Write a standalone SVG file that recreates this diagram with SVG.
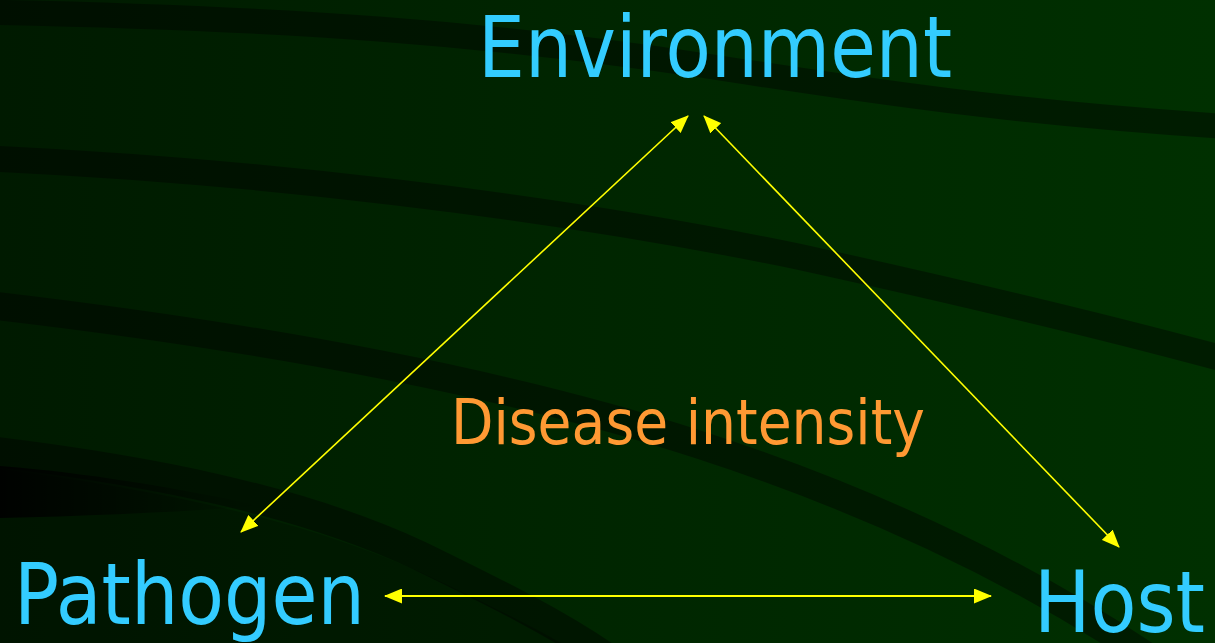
<svg xmlns="http://www.w3.org/2000/svg" width="1215" height="643" viewBox="0 0 1215 643">
  <defs>
    <linearGradient id="bg" x1="0" y1="0" x2="1" y2="0">
      <stop offset="0" stop-color="#001a00"/>
      <stop offset="0.45" stop-color="#002500"/>
      <stop offset="1" stop-color="#003000"/>
    </linearGradient>
    <linearGradient id="blob" x1="0" y1="0" x2="1" y2="0">
      <stop offset="0" stop-color="#000000" stop-opacity="0.9"/>
      <stop offset="1" stop-color="#000000" stop-opacity="0"/>
    </linearGradient>
    <marker id="ah" viewBox="0 0 18 15" markerWidth="18" markerHeight="15" refX="17" refY="7.5" orient="auto-start-reverse" markerUnits="userSpaceOnUse">
      <path d="M0,0 L18,7.5 L0,15 Z" fill="#ffff00"/>
    </marker>
  </defs>
  <style>
    .band { fill: none; stroke: #000000; stroke-opacity: 0.4; stroke-linecap: butt; }
    .lbl { font-family: "DejaVu Sans", "Liberation Sans", sans-serif; fill: #33ccff; }
    .mid { font-family: "DejaVu Sans", "Liberation Sans", sans-serif; fill: #ff9933; }
    .conn { stroke: #ffff00; fill: none; marker-start: url(#ah); marker-end: url(#ah); }
  </style>

  <g id="background">
    <rect x="0" y="0" width="1215" height="643" fill="url(#bg)"/>
    <path class="band" stroke-width="25" d="M-20,12 C300,18 500,35 700,65 C850,88 1000,112 1235,127"/>
    <path class="band" stroke-width="26" d="M-20,158 C250,170 550,205 800,257 C950,290 1100,325 1235,362"/>
    <path class="band" stroke-width="28" d="M-20,304 C250,335 500,380 700,445 C900,510 1050,590 1160,665"/>
    <path d="M-10,468 C150,488 300,518 420,572 C500,610 550,635 590,660 L-10,660 Z" fill="#000000" fill-opacity="0.22"/>
    <path class="band" stroke-width="30" d="M-20,450 C150,470 300,500 420,556 C500,595 560,625 610,660"/>
    <path d="M0,466 C80,472 180,488 260,506 C180,512 90,516 0,518 Z" fill="url(#blob)"/>
  </g>

  <g id="connectors">
    <line class="conn" stroke-width="1.6" x1="688" y1="116" x2="241" y2="532"/>
    <line class="conn" stroke-width="1.6" x1="704" y1="116" x2="1119" y2="547"/>
    <line class="conn" stroke-width="2.2" x1="385" y1="596" x2="991" y2="596"/>
  </g>

  <g id="node-environment">
    <text class="lbl" x="478" y="77" font-size="85" textLength="474" lengthAdjust="spacingAndGlyphs">Environment</text>
  </g>
  <g id="node-pathogen">
    <text class="lbl" x="14" y="624" font-size="85" textLength="351" lengthAdjust="spacingAndGlyphs">Pathogen</text>
  </g>
  <g id="node-host">
    <text class="lbl" x="1034" y="632" font-size="85" textLength="171" lengthAdjust="spacingAndGlyphs">Host</text>
  </g>
  <g id="node-disease-intensity">
    <text class="mid" x="451" y="444" font-size="63" textLength="474" lengthAdjust="spacingAndGlyphs">Disease intensity</text>
  </g>
</svg>
